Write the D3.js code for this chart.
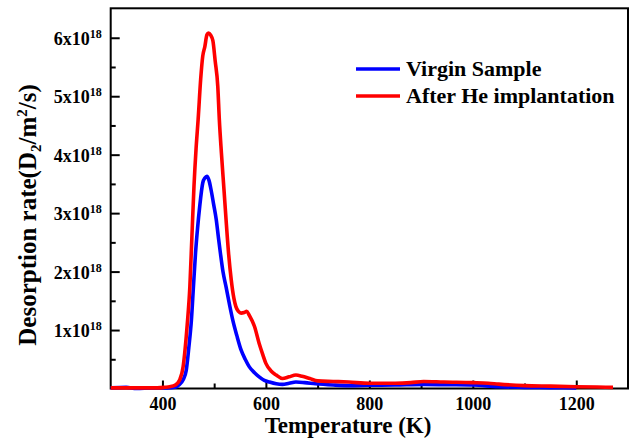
<!DOCTYPE html>
<html>
<head>
<meta charset="utf-8">
<script src="https://cdn.jsdelivr.net/npm/d3@7"></script>
<style>
  body { margin: 0; background: #fff; }
  svg text { font-family: "Liberation Serif", "Times New Roman", serif; font-weight: bold; fill: #000; }
</style>
</head>
<body>
<svg id="chart" width="638" height="441"></svg>
<script>
// values, rates in units of 1e18 D2/m2/s
var tempVirgin = [300, 330, 350, 380, 410, 424, 432, 440, 446, 451, 456, 460, 464, 468, 472, 478, 482, 486, 490, 494, 499, 504, 508, 512, 517, 523, 530, 536, 544, 552, 560, 568, 578, 587, 597, 607, 620, 632, 645, 658, 675, 696, 730, 760, 800, 850, 905, 950, 1000, 1049, 1100, 1150, 1200];
var rateVirgin = [0.01, 0.02, 0.0, 0.01, 0.01, 0.02, 0.06, 0.15, 0.31, 0.7, 1.17, 1.75, 2.32, 2.75, 3.11, 3.52, 3.6, 3.63, 3.56, 3.4, 3.15, 2.89, 2.6, 2.32, 2.0, 1.74, 1.42, 1.17, 0.9, 0.66, 0.5, 0.37, 0.27, 0.2, 0.14, 0.11, 0.08, 0.07, 0.09, 0.11, 0.1, 0.08, 0.06, 0.05, 0.055, 0.06, 0.07, 0.065, 0.06, 0.03, 0.02, 0.015, 0.01];

var tempHe = [300, 330, 360, 390, 405, 414, 425, 433, 440, 443, 448, 453, 457, 461, 465, 469, 474, 478, 482, 486, 489, 493, 497.5, 502, 507, 510, 514, 519, 523, 528, 533, 538, 542, 547, 552, 558, 563, 568, 578, 587, 594, 600, 610, 620, 632, 645, 658, 670, 685, 700, 730, 760, 800, 850, 880, 905, 944, 1000, 1030, 1050, 1100, 1150, 1200, 1240, 1271];
var rateHe = [0.01, 0.01, 0.01, 0.01, 0.02, 0.03, 0.06, 0.14, 0.37, 0.6, 1.1, 1.74, 2.6, 3.46, 4.1, 4.6, 5.3, 5.69, 5.85, 6.05, 6.08, 6.05, 5.95, 5.6, 5.17, 4.6, 4.03, 3.4, 2.89, 2.3, 1.86, 1.55, 1.4, 1.32, 1.29, 1.3, 1.32, 1.25, 1.06, 0.77, 0.58, 0.43, 0.3, 0.23, 0.17, 0.2, 0.23, 0.21, 0.17, 0.13, 0.12, 0.11, 0.09, 0.09, 0.1, 0.12, 0.11, 0.1, 0.09, 0.075, 0.05, 0.04, 0.03, 0.025, 0.02];

var xMajor = [400, 600, 800, 1000, 1200];
var xMinor = [500, 700, 900, 1100];
var yMajor = [1, 2, 3, 4, 5, 6];
var yMinor = [0.5, 1.5, 2.5, 3.5, 4.5, 5.5];
var seriesNames = ["Virgin Sample", "After He implantation"];
var seriesColors = ["#0000ff", "#ff0000"];

var plotLeft = 110.7, plotRight = 628, plotTop = 8.3, plotBottom = 388.5;

var svg = d3.select("#chart");
var x = d3.scaleLinear().domain([300, 1300]).range([plotLeft, plotRight]);
var y = d3.scaleLinear().domain([0, 6.504]).range([plotBottom, plotTop]);

// ticks (inward)
function styleAxis(g) {
  g.select(".domain").remove();
  g.selectAll(".tick line").attr("stroke", "#000").attr("stroke-width", 2);
}

svg.append("g").attr("transform", "translate(0," + plotBottom + ")")
  .call(d3.axisBottom(x).tickValues(xMinor).tickSize(-5).tickFormat(""))
  .call(styleAxis);

var gx = svg.append("g").attr("transform", "translate(0," + plotBottom + ")")
  .call(d3.axisBottom(x).tickValues(xMajor).tickSize(-8).tickPadding(9.2).tickFormat(d3.format("d")))
  .call(styleAxis);
gx.selectAll(".tick text").style("font-size", "18px");

svg.append("g").attr("transform", "translate(" + plotLeft + ",0)")
  .call(d3.axisLeft(y).tickValues(yMinor).tickSize(-5).tickFormat(""))
  .call(styleAxis);

var gy = svg.append("g").attr("transform", "translate(" + plotLeft + ",0)")
  .call(d3.axisLeft(y).tickValues(yMajor).tickSize(-9).tickPadding(9))
  .call(styleAxis);
gy.selectAll(".tick text").each(function(d) {
  var t = d3.select(this).text(null).style("font-size", "18px").attr("dy", "0.37em");
  t.append("tspan").text(d + "x10");
  t.append("tspan").attr("dy", -7).style("font-size", "12px").text("18");
});

// frame
svg.append("rect")
  .attr("x", plotLeft).attr("y", plotTop)
  .attr("width", plotRight - plotLeft).attr("height", plotBottom - plotTop)
  .attr("fill", "none").attr("stroke", "#000").attr("stroke-width", 2);

// curves
var line = d3.line()
  .x(function(d) { return x(d[0]); })
  .y(function(d) { return y(d[1]); })
  .curve(d3.curveMonotoneX);

var series = [d3.zip(tempVirgin, rateVirgin), d3.zip(tempHe, rateHe)];
series.forEach(function(s, i) {
  svg.append("path").datum(s)
    .attr("fill", "none")
    .attr("stroke", seriesColors[i])
    .attr("stroke-width", 3.6)
    .attr("stroke-linejoin", "round")
    .attr("d", line);
});

// legend
var legend = svg.append("g");
seriesNames.forEach(function(name, i) {
  var ly = 69 + i * 27;
  legend.append("line")
    .attr("x1", 356).attr("x2", 400).attr("y1", ly).attr("y2", ly)
    .attr("stroke", seriesColors[i]).attr("stroke-width", 3.6);
  legend.append("text")
    .attr("x", 406).attr("y", ly + 7)
    .style("font-size", "22px")
    .text(name);
});

// axis titles
svg.append("text")
  .attr("x", 348).attr("y", 433)
  .attr("text-anchor", "middle")
  .style("font-size", "23px")
  .text("Temperature (K)");

var yt = svg.append("text")
  .attr("transform", "translate(36,215) rotate(-90)")
  .attr("text-anchor", "middle")
  .style("font-size", "25px");
yt.append("tspan").text("Desorption rate(D");
yt.append("tspan").attr("dy", 5).style("font-size", "15px").text("2");
yt.append("tspan").attr("dy", -5).text("/m");
yt.append("tspan").attr("dy", -9).style("font-size", "15px").text("2");
yt.append("tspan").attr("dy", 9).text("/s)");
</script>
</body>
</html>
